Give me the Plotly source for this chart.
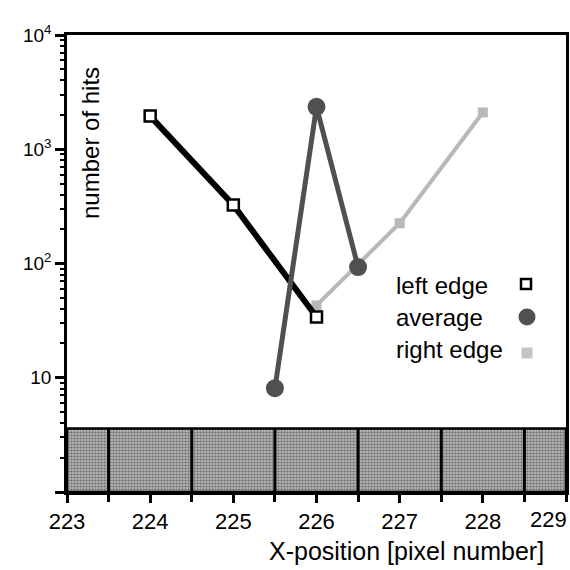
import plotly.graph_objects as go

# ---- data ----
left_x = [224, 225, 226]
left_y = [1950, 325, 34]
avg_x = [225.5, 226, 226.5]
avg_y = [8.1, 2350, 93]
right_x = [226, 227, 228]
right_y = [43, 225, 2100]

x_ticks = [223, 224, 225, 226, 227, 228, 229]
x_tick_labels = ["223", "224", "225", "226", "227", "228", "229"]
y_ticks = [1, 10, 100, 1000, 10000]
y_tick_labels = ["", "10", "10<sup>2</sup>", "10<sup>3</sup>", "10<sup>4</sup>"]
y_minor = [m * 10 ** k for k in range(4) for m in range(2, 10)]

band_left, band_right, band_bottom, band_top = 223, 229, 1, 3.6
band_dividers = [223.5, 224.5, 225.5, 226.5, 227.5, 228.5]

legend_names = ["left edge", "average", "right edge"]

FONT = "Liberation Sans, Arial, Helvetica, sans-serif"
AVG_C = "#505050"
RIGHT_C = "#b8b8b8"

fig = go.Figure()

# shaded band
fig.add_trace(go.Scatter(
    x=[band_left, band_right, band_right, band_left, band_left],
    y=[band_bottom, band_bottom, band_top, band_top, band_bottom],
    mode="lines", fill="toself",
    fillcolor="#9a9a9a",
    fillpattern=dict(shape=".", bgcolor="#c4c4c4", fgcolor="#2a2a2a", size=3, solidity=0.55),
    line=dict(color="black", width=2.5),
    hoverinfo="skip", showlegend=False))
dx, dy = [], []
for v in band_dividers:
    dx += [v, v, None]
    dy += [band_bottom, band_top, None]
fig.add_trace(go.Scatter(x=dx, y=dy, mode="lines",
                         line=dict(color="black", width=3),
                         hoverinfo="skip", showlegend=False))

# right edge
fig.add_trace(go.Scatter(x=right_x, y=right_y, mode="lines+markers",
                         line=dict(color=RIGHT_C, width=4),
                         marker=dict(symbol="square", size=10, color=RIGHT_C),
                         showlegend=False))
# left edge
fig.add_trace(go.Scatter(x=left_x, y=left_y, mode="lines+markers",
                         line=dict(color="black", width=6),
                         marker=dict(symbol="square", size=11, color="white",
                                     line=dict(color="black", width=2.5)),
                         showlegend=False))
# average
fig.add_trace(go.Scatter(x=avg_x, y=avg_y, mode="lines+markers",
                         line=dict(color=AVG_C, width=5),
                         marker=dict(symbol="circle", size=18, color=AVG_C),
                         showlegend=False))

# legend glyphs on an overlay pixel axis
leg_y = [285, 317, 349]
leg_mark_y = [284, 317, 353]
fig.add_trace(go.Scatter(x=[526], y=[leg_mark_y[0]], xaxis="x2", yaxis="y2", mode="markers",
                         marker=dict(symbol="square", size=10, color="white",
                                     line=dict(color="black", width=2.5)),
                         showlegend=False, hoverinfo="skip"))
fig.add_trace(go.Scatter(x=[527], y=[leg_mark_y[1]], xaxis="x2", yaxis="y2", mode="markers",
                         marker=dict(symbol="circle", size=17, color=AVG_C),
                         showlegend=False, hoverinfo="skip"))
fig.add_trace(go.Scatter(x=[527], y=[leg_mark_y[2]], xaxis="x2", yaxis="y2", mode="markers",
                         marker=dict(symbol="square", size=11, color="#c4c4c4"),
                         showlegend=False, hoverinfo="skip"))
for name, yy in zip(legend_names, leg_y):
    fig.add_annotation(x=394, y=yy, xref="x2", yref="y2", text=name, showarrow=False,
                       xanchor="left", yanchor="middle",
                       font=dict(family=FONT, size=24, color="black"))

fig.update_layout(
    width=570, height=570,
    margin=dict(l=67, r=4, t=35, b=78),
    plot_bgcolor="white", paper_bgcolor="white",
    font=dict(family=FONT, color="black"),
    xaxis=dict(range=[223, 229], tickvals=x_ticks[:-1], ticktext=x_tick_labels[:-1],
               automargin=False, ticklabeloverflow="allow",
               showline=True, linecolor="black", linewidth=2.5, mirror=True,
               ticks="outside", ticklen=8, tickwidth=2.5, tickcolor="black",
               minor=dict(tick0=223.5, dtick=0.5, ticks="outside", ticklen=7,
                          tickwidth=2.5, tickcolor="black"),
               showgrid=False, zeroline=False,
               tickfont=dict(size=22, family=FONT)),
    yaxis=dict(type="log", range=[0, 4], tickvals=y_ticks, ticktext=y_tick_labels,
               automargin=False, ticklabeloverflow="allow",
               showline=True, linecolor="black", linewidth=2.5, mirror=True,
               ticks="outside", ticklen=9, tickwidth=2.5, tickcolor="black",
               minor=dict(tickvals=y_minor, ticks="outside", ticklen=4,
                          tickwidth=2, tickcolor="black"),
               showgrid=False, zeroline=False,
               tickfont=dict(size=19, family=FONT)),
    xaxis2=dict(overlaying="x", range=[67, 566], visible=False, automargin=False),
    yaxis2=dict(overlaying="y", range=[492, 35], visible=False, automargin=False),
    showlegend=False,
)

# last x tick label, pulled inside the picture edge as in the reference
fig.add_annotation(x=(569 - 67) / 499, y=(492 - 519) / 457, xref="paper", yref="paper",
                   xanchor="right", yanchor="middle", text=x_tick_labels[-1],
                   showarrow=False, font=dict(family=FONT, size=22, color="black"))

fig.add_annotation(x=90, y=143, xref="x2", yref="y2", text="number of hits",
                   textangle=-90, showarrow=False,
                   font=dict(family=FONT, size=24, color="black"))
fig.add_annotation(x=(546 - 67) / 499, y=(492 - 551) / 457, xref="paper", yref="paper",
                   yanchor="middle", xanchor="right",
                   text="X-position [pixel number]", showarrow=False,
                   font=dict(family=FONT, size=25, color="black"))

fig.write_html("out.html",
               config={"displayModeBar": False},
               post_script="document.body.style.margin='0';document.body.style.padding='0';")
